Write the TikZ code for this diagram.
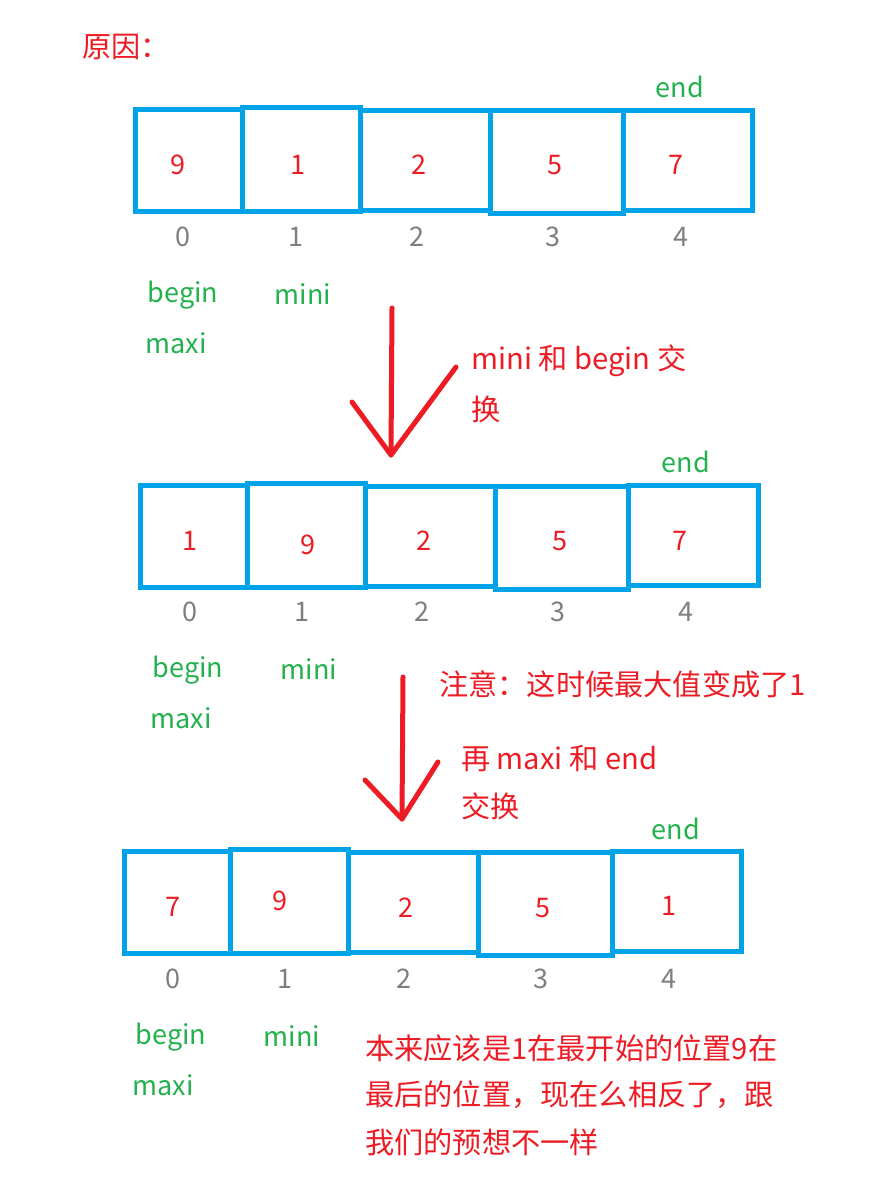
\documentclass[tikz,border=0pt]{standalone}
\usepackage{fontspec}
\setmainfont{Noto Sans CJK SC}
\definecolor{boxblue}{HTML}{00A2E8}
\definecolor{pred}{HTML}{ED1C24}
\definecolor{pgreen}{HTML}{22B14C}
\definecolor{pgray}{HTML}{7F7F7F}
\newcommand\mkcell[5]{\node[cellbox, minimum width={(#4-#2)*1pt}, minimum height={(#5-#3)*1pt}] (#1) at ({(#2+#4)/2},{(#3+#5)/2}) {};}
\begin{document}
\begin{tikzpicture}[x=1pt,y=-1pt,
  cellbox/.style={draw=boxblue, line width=5pt, inner sep=0pt, outer sep=0pt},
  num/.style={text=pred, font=\fontsize{27}{27}\selectfont, inner sep=0pt},
  idx/.style={text=pgray, font=\fontsize{27}{27}\selectfont, inner sep=0pt},
  lbl/.style={text=pgreen, font=\fontsize{27}{27}\selectfont, inner sep=0pt},
  note/.style={text=pred, font=\fontsize{29.2}{29.2}\selectfont, inner sep=0pt, anchor=west},
  arr/.style={draw=pred, line width=5pt, line cap=round, line join=round}]
\useasboundingbox[fill=white] (0,0) rectangle (884,1182);

\node[note] (title) at (82,47) {原因：};

% ---------- array 1 ----------
\mkcell{c10}{135}{110}{242}{212}
\mkcell{c11}{242}{108}{360}{212}
\mkcell{c12}{360}{111}{490}{211}
\mkcell{c13}{490}{111}{623}{214}
\mkcell{c14}{623}{111}{752}{211}
\node[num] (v10) at (178,165) {9};
\node[num] (v11) at (298,165) {1};
\node[num] (v12) at (419,165) {2};
\node[num] (v13) at (555,165) {5};
\node[num] (v14) at (676,165) {7};
\node[idx] (i10) at (183,237) {0};
\node[idx] (i11) at (296,237) {1};
\node[idx] (i12) at (417,237) {2};
\node[idx] (i13) at (553,237) {3};
\node[idx] (i14) at (681,237) {4};
\node[lbl] (end1) at (680,87) {end};
\node[lbl] (beg1) at (183,295) {begin};
\node[lbl] (min1) at (303,294) {mini};
\node[lbl] (max1) at (176,343) {maxi};

% ---------- arrow 1 ----------
\coordinate (a1top) at (392,308);
\coordinate (a1tip) at (391,455);
\coordinate (a1l) at (352,402);
\coordinate (a1r) at (456,367);
\draw[arr] (a1top) -- (a1tip);
\draw[arr] (a1l) -- (a1tip) -- (a1r);
\node[note] (n1a) at (471,361) {mini 和 begin 交};
\node[note] (n1b) at (471,409) {换};

% ---------- array 2 ----------
\mkcell{c20}{140}{485}{247}{587}
\mkcell{c21}{247}{483}{365}{587}
\mkcell{c22}{365}{486}{495}{586}
\mkcell{c23}{495}{486}{628}{589}
\mkcell{c24}{628}{485}{758}{585}
\node[num] (v20) at (190,541) {1};
\node[num] (v21) at (308,545) {9};
\node[num] (v22) at (424,541) {2};
\node[num] (v23) at (560,541) {5};
\node[num] (v24) at (680,541) {7};
\node[idx] (i20) at (190,612) {0};
\node[idx] (i21) at (302,612) {1};
\node[idx] (i22) at (422,612) {2};
\node[idx] (i23) at (558,612) {3};
\node[idx] (i24) at (686,612) {4};
\node[lbl] (end2) at (686,462) {end};
\node[lbl] (beg2) at (188,670) {begin};
\node[lbl] (min2) at (309,669) {mini};
\node[lbl] (max2) at (181,718) {maxi};

% ---------- arrow 2 ----------
\coordinate (a2top) at (403,677);
\coordinate (a2tip) at (402,819);
\coordinate (a2l) at (365,780);
\coordinate (a2r) at (438,762);
\draw[arr] (a2top) -- (a2tip);
\draw[arr] (a2l) -- (a2tip) -- (a2r);
\node[note] (n2) at (439,684) {注意：这时候最大值变成了1};
\node[note] (n3a) at (461,759) {再 maxi 和 end};
\node[note] (n3b) at (461,806) {交换};

% ---------- array 3 ----------
\mkcell{c30}{124}{851}{230}{953}
\mkcell{c31}{230}{849}{348}{953}
\mkcell{c32}{348}{852}{478}{952}
\mkcell{c33}{478}{852}{612}{955}
\mkcell{c34}{612}{851}{741}{951}
\node[num] (v30) at (173,907) {7};
\node[num] (v31) at (280,901) {9};
\node[num] (v32) at (406,908) {2};
\node[num] (v33) at (543,908) {5};
\node[num] (v34) at (669,906) {1};
\node[idx] (i30) at (173,979) {0};
\node[idx] (i31) at (285,979) {1};
\node[idx] (i32) at (404,979) {2};
\node[idx] (i33) at (541,979) {3};
\node[idx] (i34) at (669,979) {4};
\node[lbl] (end3) at (676,829) {end};
\node[lbl] (beg3) at (171,1037) {begin};
\node[lbl] (min3) at (292,1036) {mini};
\node[lbl] (max3) at (163,1085) {maxi};

\node[note] (n4a) at (365,1048) {本来应该是1在最开始的位置9在};
\node[note] (n4b) at (365,1095) {最后的位置，现在么相反了，跟};
\node[note] (n4c) at (365,1142) {我们的预想不一样};
\end{tikzpicture}
\end{document}
